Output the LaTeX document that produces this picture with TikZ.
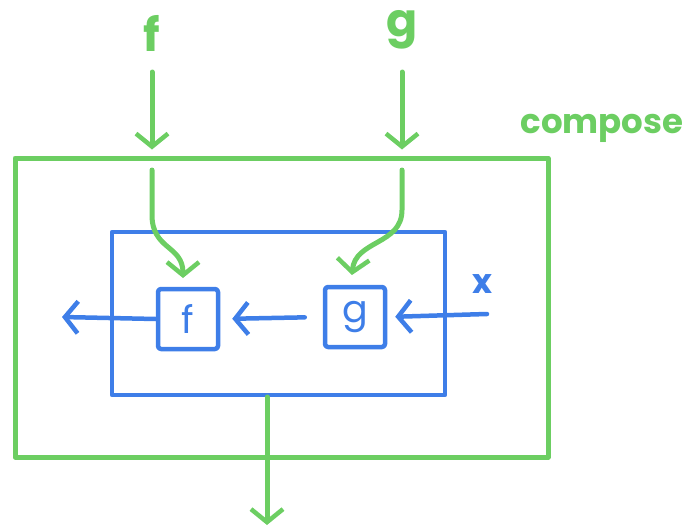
\documentclass[tikz,border=0pt]{standalone}
\usepackage{fontspec}
\setmainfont{Poppins}
\usetikzlibrary{arrows.meta}
\definecolor{pgreen}{RGB}{108,206,98}
\definecolor{pblue}{RGB}{62,126,232}
\tikzset{
  gline/.style={draw=pgreen, line width=5pt, line cap=round, line join=round},
  bline/.style={draw=pblue, line width=4.5pt, line cap=round, line join=round},
  tip/.style={-{Straight Barb[length=13pt,width=32pt,line width=4.5pt]}},
  fnbox/.style={bline, minimum width=60pt, minimum height=60pt, inner sep=0pt, rounded corners=3pt},
  lbl/.style={inner sep=0pt, font=\fontsize{46}{46}\selectfont\bfseries},
}
\begin{document}
\begin{tikzpicture}[x=1pt,y=-1pt]
\useasboundingbox (0,0) rectangle (689,530);
% outer compose frame
\node[gline, minimum width=533pt, minimum height=299pt, inner sep=0pt] (outer) at (281.5,307.5) {};
\node[lbl, text=pgreen, font=\fontsize{34}{34}\selectfont\bfseries] (cname) at (602,128) {compose};
% inner blue frame
\node[bline, minimum width=333pt, minimum height=163pt, inner sep=0pt] (inner) at (278.5,313.5) {};
% function boxes
\node[fnbox, text=pblue, font=\fontsize{38}{38}\selectfont] (fb) at (188,319) {f};
\node[fnbox, text=pblue, font=\fontsize{38}{38}\selectfont] (gb) at (355,317) {g};
% inputs f and g
\node[lbl, text=pgreen] (fin) at (152,33) {f};
\node[lbl, text=pgreen] (gin) at (402,30) {g};
\node[lbl, text=pblue, font=\fontsize{34}{34}\selectfont\bfseries] (xin) at (482,284) {x};
\coordinate (fa) at (152,72);
\coordinate (ga) at (402,72);
\coordinate (fo) at (152,170);
\coordinate (go) at (402,170);
\coordinate (fbt) at (183,278);
\coordinate (gbt) at (352,275);
\coordinate (xs) at (487,314);
\coordinate (outl) at (62,317);
\coordinate (res) at (267,525);
\coordinate (inb) at (267,397);
\draw[gline, tip, shorten >=6pt] (fa) -- (outer.north -| fa);
\draw[gline, tip, shorten >=6pt] (ga) -- (outer.north -| ga);
\draw[gline, tip] (fo) -- (152,215) .. controls (152,250) and (183,245) .. (fbt);
\draw[gline, tip] (go) -- (402,210) .. controls (402,245) and (355,240) .. (gbt);
% data flow
\draw[bline, tip, shorten >=8pt] (xs) -- (gb.east);
\draw[bline, tip, shorten <=18pt, shorten >=12pt] (gb.west) -- (fb.east);
\draw[bline, tip] (fb.west) -- (outl);
% result
\draw[gline, tip] (inb) -- (res);
\end{tikzpicture}
\end{document}
